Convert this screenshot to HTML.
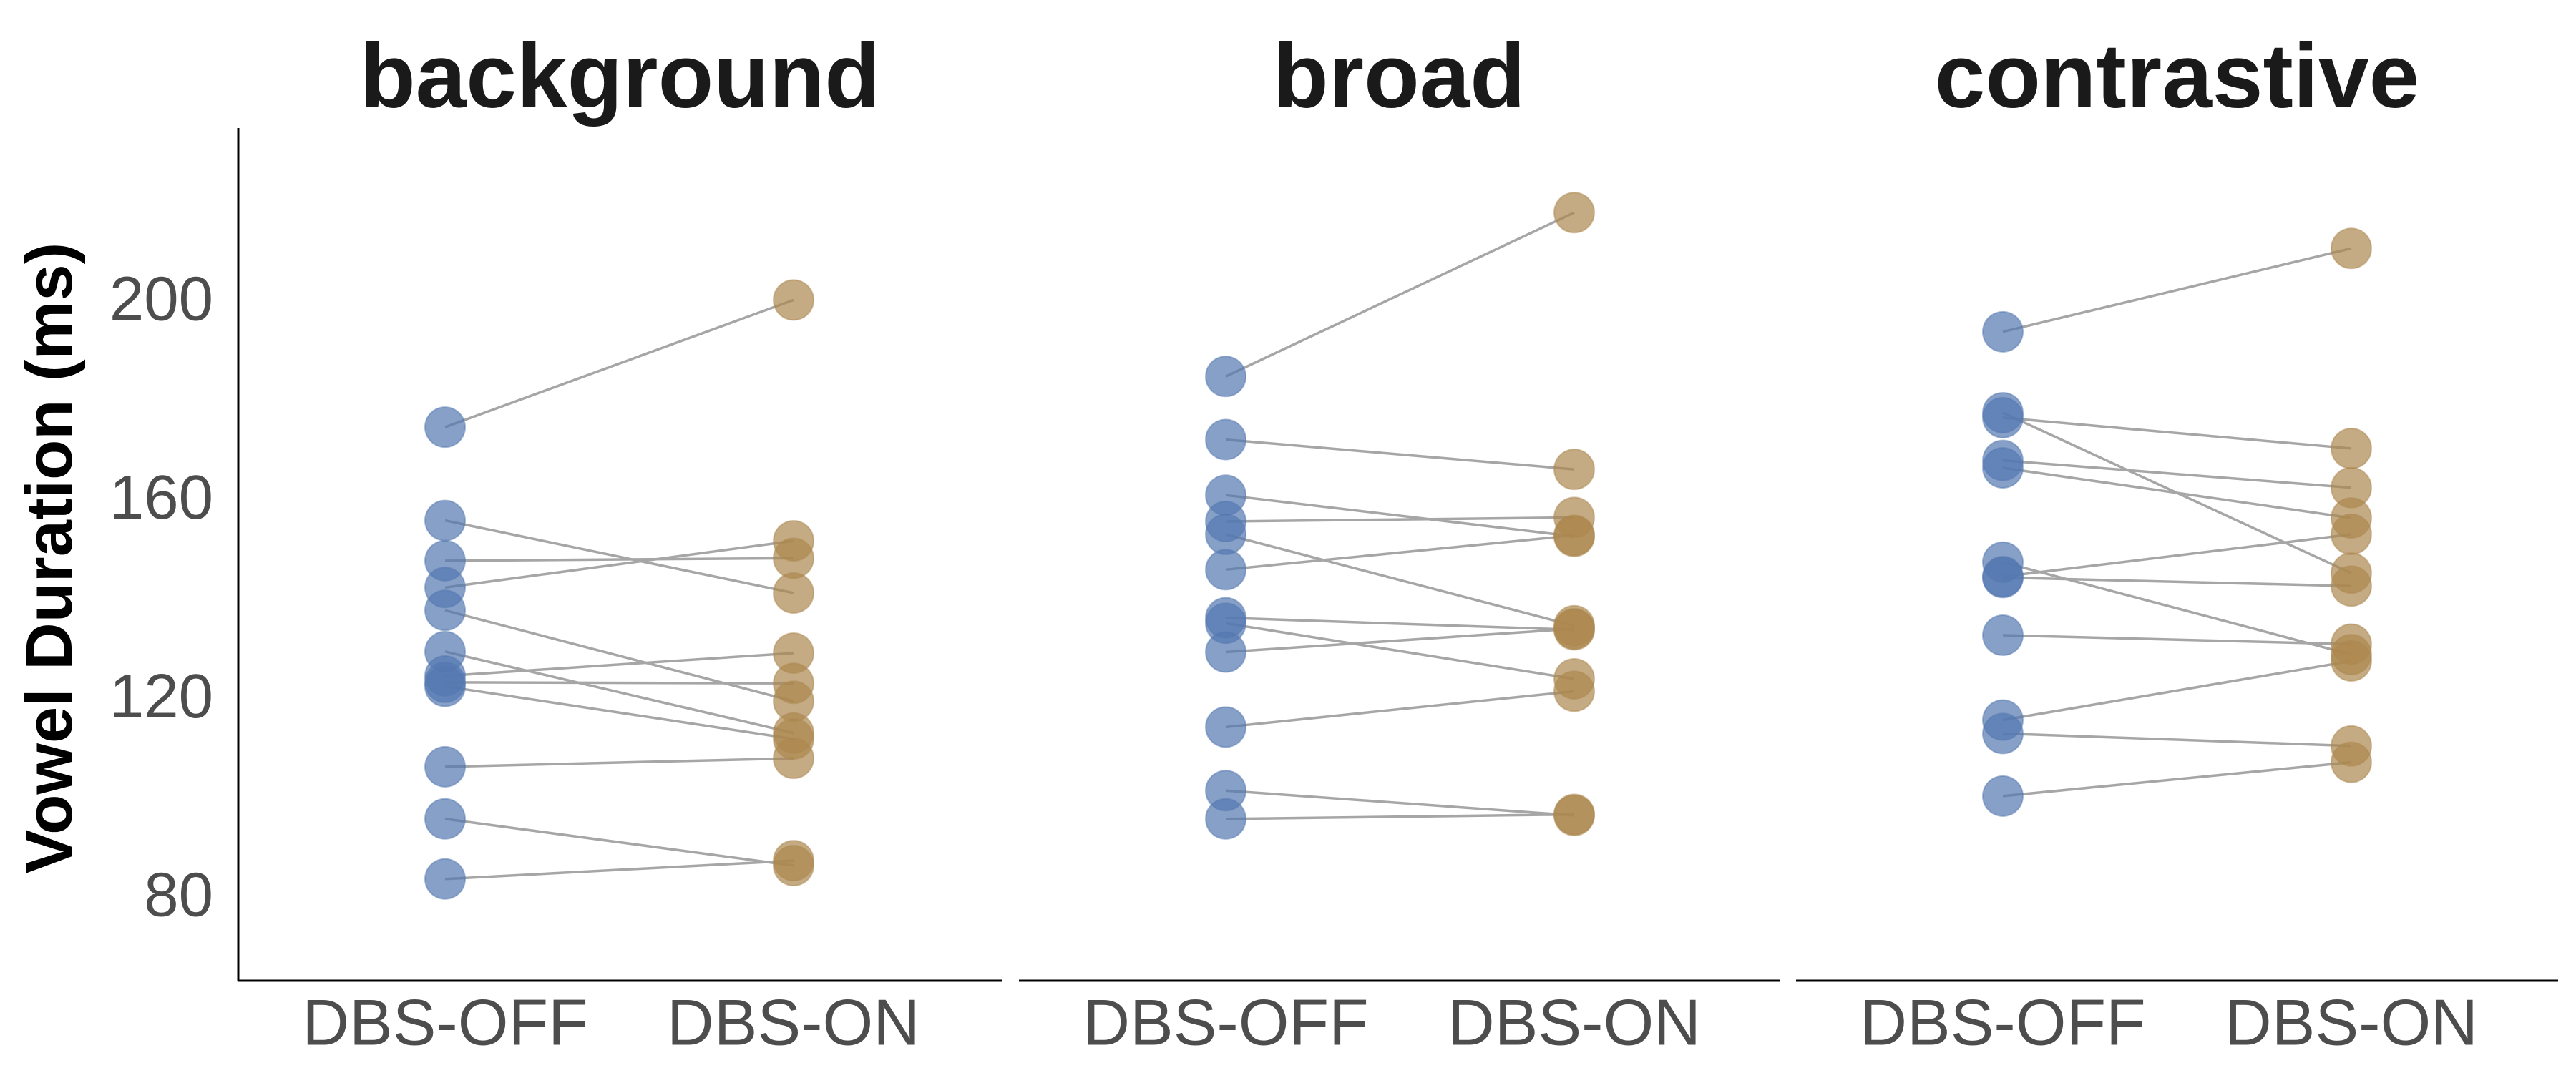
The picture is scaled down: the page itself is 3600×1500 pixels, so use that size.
<!DOCTYPE html>
<html><head><meta charset="utf-8"><style>
html,body{margin:0;padding:0;background:#fff;}
svg{display:block;font-family:"Liberation Sans",Arial,sans-serif;}
</style></head><body>
<svg id="chart" width="3600" height="1500" viewBox="0 0 3600 1500" xmlns="http://www.w3.org/2000/svg">
<rect x="0" y="0" width="3600" height="1500" fill="#fff"/>
<g id="axes"></g>
<g id="marks"></g>
</svg>
<script>
const panels = ["background", "broad", "contrastive"];
const conditions = ["DBS-OFF", "DBS-ON"];
const yTicks = [80, 120, 160, 200];
const offBackground = [174.2, 155.4, 147.3, 141.9, 137.3, 129, 124.1, 122.8, 122, 105.8, 95.3, 83.2];
const onBackground  = [199.8, 140.8, 147.8, 151.3, 119, 112.6, 128.7, 122.6, 111.4, 107.5, 85.9, 86.9];
const offBroad = [184.4, 171.7, 160.5, 155.2, 152.6, 145.5, 135.8, 134.7, 128.9, 113.8, 101, 95.3];
const onBroad  = [217.4, 165.7, 152.2, 156, 134.2, 152.4, 133.4, 123.5, 133.6, 121, 96, 96.2];
const offContrastive = [193.4, 177.1, 176.1, 167.5, 166, 147, 144.1, 143.9, 132.3, 115.2, 112.5, 99.9];
const onContrastive  = [210.2, 144.8, 169.9, 162, 155.9, 128.4, 152.6, 142.2, 130.5, 127.1, 110, 106.7];
const offSeries = [offBackground, offBroad, offContrastive];
const onSeries = [onBackground, onBroad, onContrastive];

const NS = "http://www.w3.org/2000/svg";
function y(v){ return 418 + (200 - v) * (1251 - 418) / 120; }
const panelLeft = [333, 1424, 2510];
const panelRight = [1400, 2487, 3575];
function x(p, c){ return panelLeft[p] + 289 + c * 487; }
function mk(tag, attrs, parent, text){
  const e = document.createElementNS(NS, tag);
  for (const k in attrs) e.setAttribute(k, attrs[k]);
  if (text !== undefined) e.textContent = text;
  parent.appendChild(e);
  return e;
}
const axes = document.getElementById('axes');
const marks = document.getElementById('marks');

let yl = mk('line', {x1:333, y1:179, x2:333, y2:1371, stroke:'#000', 'stroke-width':3}, axes);


yTicks.forEach(t => {
  let tl = mk('text', {x:298, y:y(t), 'text-anchor':'end', 'dominant-baseline':'central', 'font-size':87, fill:'#4d4d4d'}, axes, String(t));
  
  
});
let yt = mk('text', {x:0, y:0, transform:'translate(69,780) rotate(-90)', 'text-anchor':'middle', 'dominant-baseline':'central', 'font-size':92, 'font-weight':'bold', fill:'#000'}, axes, 'Vowel Duration (ms)');



panels.forEach((name, p) => {
  let bl = mk('line', {x1:panelLeft[p], y1:1371, x2:panelRight[p], y2:1371, stroke:'#000', 'stroke-width':3}, axes);
  
  
  let ti = mk('text', {x:(panelLeft[p]+panelRight[p])/2, y:106, 'text-anchor':'middle', 'dominant-baseline':'central', 'font-size':127, 'font-weight':'bold', fill:'#1a1a1a'}, axes, name);
  
  
  conditions.forEach((c, ci) => {
    let xl = mk('text', {x:x(p, ci), y:1430, 'text-anchor':'middle', 'dominant-baseline':'central', 'font-size':91, fill:'#4d4d4d'}, axes, c);
    
    
  });
  const off = offSeries[p], on = onSeries[p];
  off.forEach((v, i) => {
    let ln = mk('line', {x1:x(p,0), y1:y(v), x2:x(p,1), y2:y(on[i]), stroke:'#a6a6a6', 'stroke-width':3.5}, marks);
    
    
  });
  off.forEach((v, i) => {
    let c1 = mk('circle', {cx:x(p,0), cy:y(v), r:28, fill:'#5477b0', 'fill-opacity':0.7, stroke:'#5477b0', 'stroke-opacity':0.5, 'stroke-width':2}, marks);
    
    
  });
  on.forEach((v, i) => {
    let c2 = mk('circle', {cx:x(p,1), cy:y(v), r:28, fill:'#ac874f', 'fill-opacity':0.7, stroke:'#ac874f', 'stroke-opacity':0.5, 'stroke-width':2}, marks);
    
    
  });
});
</script>
</body></html>
